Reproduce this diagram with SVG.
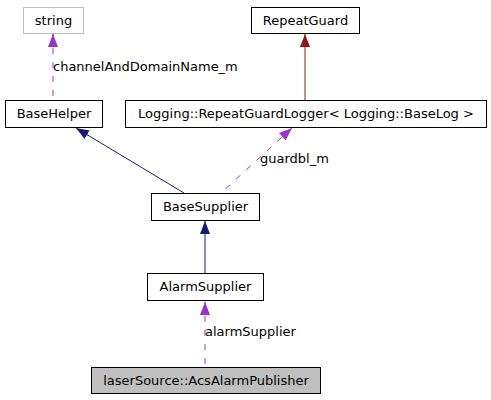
<svg xmlns="http://www.w3.org/2000/svg" width="491" height="400" viewBox="0 0 491 400">
<style>
.n{fill:#fff;stroke:#000;stroke-width:1}
.t{font-family:"DejaVu Sans",sans-serif;font-size:13px;fill:#000}
.m{text-anchor:middle}
.e{fill:none;stroke-width:1}
.d{stroke:#9a32cd;stroke-dasharray:6,8}
</style>
<defs>
<marker id="aN" markerWidth="13" markerHeight="10" refX="13" refY="5" orient="auto" markerUnits="userSpaceOnUse" viewBox="0 0 13 10"><path d="M0,0 L13,5 L0,10 z" fill="#191970"/></marker>
<marker id="aP" markerWidth="13" markerHeight="10" refX="13" refY="5" orient="auto" markerUnits="userSpaceOnUse" viewBox="0 0 13 10"><path d="M0,0 L13,5 L0,10 z" fill="#9a32cd"/></marker>
<marker id="aR" markerWidth="13" markerHeight="10" refX="13" refY="5" orient="auto" markerUnits="userSpaceOnUse" viewBox="0 0 13 10"><path d="M0,0 L13,5 L0,10 z" fill="#8b1a1a"/></marker>
</defs>
<rect width="491" height="400" fill="#fff"/>
<g id="edges">
<path class="e d" d="M53,34 L53,100"/>
<path class="e" d="M53,47 L53,34" stroke="#9a32cd" marker-end="url(#aP)"/>
<text class="t" x="53" y="71">channelAndDomainName_m</text>
<path class="e" d="M305,100 L305,34" stroke="#8b1a1a" marker-end="url(#aR)"/>
<path class="e" d="M184,193 L76,128" stroke="#191970" marker-end="url(#aN)"/>
<path class="e d" d="M292,128 L221,193"/>
<path class="e" d="M282,137 L292,128" stroke="#9a32cd" marker-end="url(#aP)"/>
<text class="t" x="260" y="163">guardbl_m</text>
<path class="e" d="M205,273 L205,221" stroke="#191970" marker-end="url(#aN)"/>
<path class="e d" d="M205,302 L205,367"/>
<path class="e" d="M205,315 L205,302" stroke="#9a32cd" marker-end="url(#aP)"/>
<text class="t" x="205" y="336">alarmSupplier</text>
</g>
<g id="string"><rect class="n" x="23.5" y="7.5" width="60" height="26" style="stroke:#bfbfbf"/><text class="t m" x="53.5" y="25">string</text></g>
<g id="RepeatGuard"><rect class="n" x="251.5" y="7.5" width="108" height="26"/><text class="t m" x="305.5" y="25">RepeatGuard</text></g>
<g id="BaseHelper"><rect class="n" x="5.5" y="100.5" width="97" height="27"/><text class="t m" x="54" y="118">BaseHelper</text></g>
<g id="RepeatGuardLogger"><rect class="n" x="125.5" y="100.5" width="361" height="27"/><text class="t m" x="306" y="118">Logging::RepeatGuardLogger&lt; Logging::BaseLog &gt;</text></g>
<g id="BaseSupplier"><rect class="n" x="151.5" y="193.5" width="108" height="27"/><text class="t m" x="205.5" y="211">BaseSupplier</text></g>
<g id="AlarmSupplier"><rect class="n" x="147.5" y="273.5" width="116" height="27"/><text class="t m" x="205.5" y="291">AlarmSupplier</text></g>
<g id="AcsAlarmPublisher"><rect class="n" x="91.5" y="367.5" width="229" height="26" style="fill:#bfbfbf"/><text class="t m" x="206" y="385">laserSource::AcsAlarmPublisher</text></g>
</svg>
